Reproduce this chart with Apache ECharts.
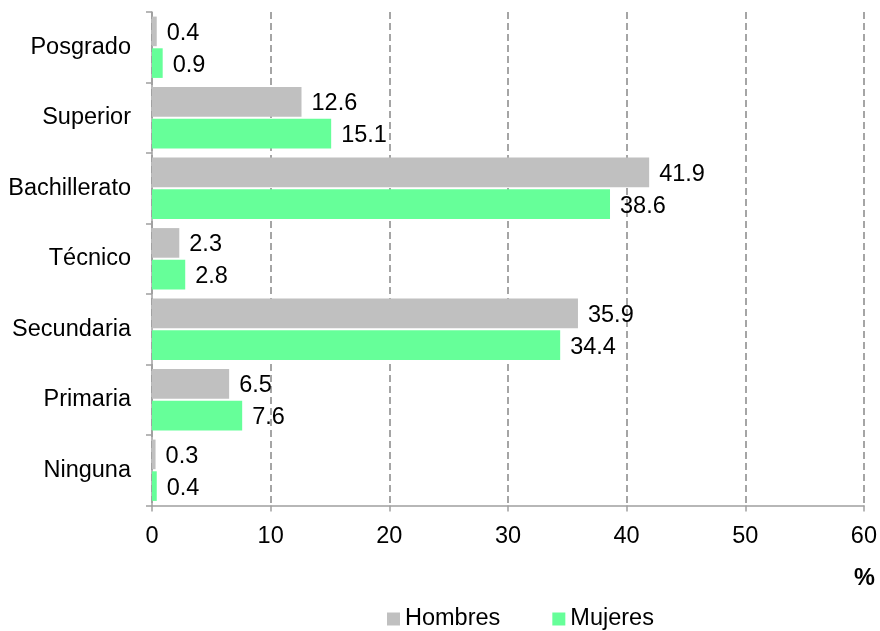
<!DOCTYPE html>
<html>
<head>
<meta charset="utf-8">
<script src="https://cdn.jsdelivr.net/npm/echarts@6/dist/echarts.min.js"></script>
<style>html,body{margin:0;padding:0;background:#fff}#c{width:880px;height:631px}</style>
</head>
<body>
<div id="c"></div>
<script>
const categories = ['Posgrado', 'Superior', 'Bachillerato', 'Técnico', 'Secundaria', 'Primaria', 'Ninguna'];
const hombres = [0.4, 12.6, 41.9, 2.3, 35.9, 6.5, 0.3];
const mujeres = [0.9, 15.1, 38.6, 2.8, 34.4, 7.6, 0.4];
const seriesNames = ['Hombres', 'Mujeres'];
const xTicks = { min: 0, max: 60, interval: 10 };
const unitLabel = '%';

const FONT = 'Liberation Sans, Arial, sans-serif';
const FS = 23.5;
const chart = echarts.init(document.getElementById('c'));
const lbl = {
  show: true, position: 'right', distance: 10, offset: [0, 2],
  color: '#000', fontFamily: FONT, fontSize: FS,
  formatter: p => p.value.toFixed(1)
};
chart.setOption({
  animation: false,
  grid: { left: 152, right: 14, top: 12, bottom: 125.5, containLabel: false },
  legend: {
    data: seriesNames, top: 602, left: 382, itemWidth: 13, itemHeight: 13, itemGap: 52,
    icon: 'rect',
    textStyle: { fontFamily: FONT, fontSize: FS, color: '#000' }
  },
  xAxis: {
    type: 'value', min: xTicks.min, max: xTicks.max, interval: xTicks.interval,
    axisLine: { show: true, lineStyle: { color: '#a0a0a0', width: 1.5 } },
    axisTick: { show: true, length: 6, lineStyle: { color: '#a0a0a0', width: 1.5 } },
    axisLabel: { margin: 19, color: '#000', fontFamily: FONT, fontSize: FS },
    splitLine: { show: true, lineStyle: { color: '#888888', type: [7, 4], width: 1.5 } }
  },
  yAxis: {
    type: 'category', data: categories, inverse: true,
    axisLine: { show: true, lineStyle: { color: '#a0a0a0', width: 1.5 } },
    axisTick: { show: true, length: 6, lineStyle: { color: '#a0a0a0', width: 1.5 } },
    axisLabel: { margin: 21, color: '#000', fontFamily: FONT, fontSize: FS }
  },
  graphic: [{
    type: 'text', right: 5, top: 567,
    style: { text: unitLabel, fontFamily: FONT, fontSize: FS, fontWeight: 'bold', fill: '#000' }
  }],
  series: [
    { name: seriesNames[0], type: 'bar', data: hombres, itemStyle: { color: '#c0c0c0' },
      barGap: '7%', barCategoryGap: '13%', label: lbl },
    { name: seriesNames[1], type: 'bar', data: mujeres, itemStyle: { color: '#66ff99' },
      barGap: '7%', barCategoryGap: '13%', label: lbl }
  ]
});
</script>
</body>
</html>
